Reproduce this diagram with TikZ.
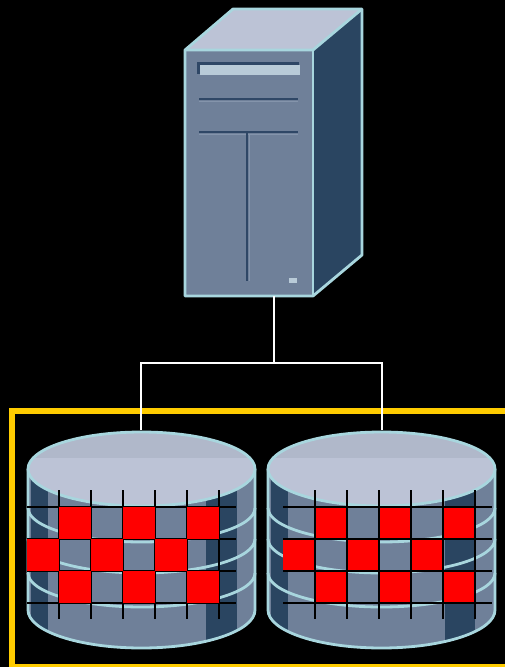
\documentclass[tikz,border=0pt]{standalone}
\definecolor{edgeC}{HTML}{A8D6DE}
\definecolor{faceC}{HTML}{6F8099}
\definecolor{faceD}{HTML}{8494AB}
\definecolor{topC}{HTML}{BCC3D6}
\definecolor{topB}{HTML}{B0B8CA}
\definecolor{darkC}{HTML}{2A4561}
\definecolor{lineC}{HTML}{2F4766}
\definecolor{slotC}{HTML}{B9CBD8}
\definecolor{frameC}{HTML}{FFCC00}
\tikzset{
  outline/.style={draw=edgeC,line width=2.8pt,line join=round},
  wire/.style={draw=white,line width=1.6pt},
  ring/.style={draw=edgeC,line width=2.8pt},
  grid line/.style={draw=black,line width=1.7pt},
  redcell/.style={fill=red},
  slotline/.style={draw=lineC,line width=1.8pt}
}
\newcommand{\DiskDraw}[5]{%
  \fill[faceC] (#1-113.5,469) -- (#1-113.5,610) arc[start angle=180,end angle=360,x radius=113.5pt,y radius=38pt] -- (#1+113.5,469) -- cycle;
  \begin{scope}
    \clip (#1-113.5,469) -- (#1-113.5,610) arc[start angle=180,end angle=360,x radius=113.5pt,y radius=38pt] -- (#1+113.5,469) -- cycle;
    \fill[darkC] (#2,460) rectangle (#3,650);
    \fill[darkC] (#4,460) rectangle (#5,640);
  \end{scope}
  \foreach \ry in {508,539,573}{
    \draw[ring] (#1-113.5,\ry) arc[start angle=180,end angle=360,x radius=113.5pt,y radius=34pt];
  }
  \draw[outline] (#1-113.5,469) -- (#1-113.5,610) arc[start angle=180,end angle=360,x radius=113.5pt,y radius=38pt] -- (#1+113.5,469);
  \fill[topC] (#1,469) ellipse [x radius=113.5pt,y radius=37pt];
  \begin{scope}
    \clip (#1-114,425) rectangle (#1+114,457);
    \fill[topB] (#1,469) ellipse [x radius=113.5pt,y radius=37pt];
  \end{scope}
  \draw[outline] (#1,469) ellipse [x radius=113.5pt,y radius=37pt];
}
\newcommand{\CellsA}[1]{%
  \foreach \cx in {32,96,160}{
    \fill[redcell] (#1+\cx,507) rectangle ++(32,32);
    \fill[redcell] (#1+\cx,571) rectangle ++(32,32);
  }
  \foreach \cx in {0,64,128}{
    \fill[redcell] (#1+\cx,539) rectangle ++(32,32);
  }
}
\newcommand{\GridDraw}[1]{%
  \foreach \gy in {507,539,571,603}{
    \draw[grid line] (#1,\gy) -- (#1+209,\gy);
  }
  \foreach \gx in {32,64,96,128,160,192}{
    \draw[grid line] (#1+\gx,490) -- (#1+\gx,619);
  }
}
\begin{document}
\begin{tikzpicture}[x=1pt,y=-1pt]
  \useasboundingbox (0,0) rectangle (505,667);
  \fill[black] (0,0) rectangle (505,667);
  \draw[frameC,line width=6pt] (11.5,411) rectangle (507.5,667);
  % server
  \fill[darkC] (313,50) -- (362,9) -- (362,255) -- (313,296) -- cycle;
  \fill[topC] (185,50) -- (233,9) -- (362,9) -- (313,50) -- cycle;
  \fill[faceC] (185,50) rectangle (313,296);
  \draw[outline] (185,50) -- (233,9) -- (362,9) -- (362,255) -- (313,296) -- (185,296) -- cycle;
  \draw[outline] (185,50) -- (313,50) -- (362,9);
  \draw[outline] (313,50) -- (313,296);
  \fill[lineC] (197,62) rectangle (299,74);
  \fill[slotC] (200,64.5) rectangle (300,75);
  \draw[slotline] (199,99) -- (298,99);
  \draw[draw=faceD,line width=.8pt] (199,101) -- (298,101);
  \draw[slotline] (199,132) -- (298,132);
  \draw[draw=faceD,line width=.8pt] (199,134.5) -- (298,134.5);
  \draw[slotline] (247,133) -- (247,281);
  \draw[draw=faceD,line width=.8pt] (249.5,135) -- (249.5,281);
  \fill[slotC] (288.5,277.5) rectangle (296.5,283);
  % disks
  \DiskDraw{141.5}{31}{48}{206}{237}
  \DiskDraw{381.5}{271}{288}{445}{475}
  \GridDraw{27}
  \CellsA{27}
  \CellsA{283}
  \GridDraw{283}
  % connectors
  \coordinate (srv) at (274,296);
  \coordinate (bus) at (274,363);
  \coordinate (d1) at (141,430);
  \coordinate (d2) at (382,430);
  \draw[wire] (srv) -- (bus);
  \draw[wire,line join=miter] (d1) |- (bus) -| (d2);
\end{tikzpicture}
\end{document}
